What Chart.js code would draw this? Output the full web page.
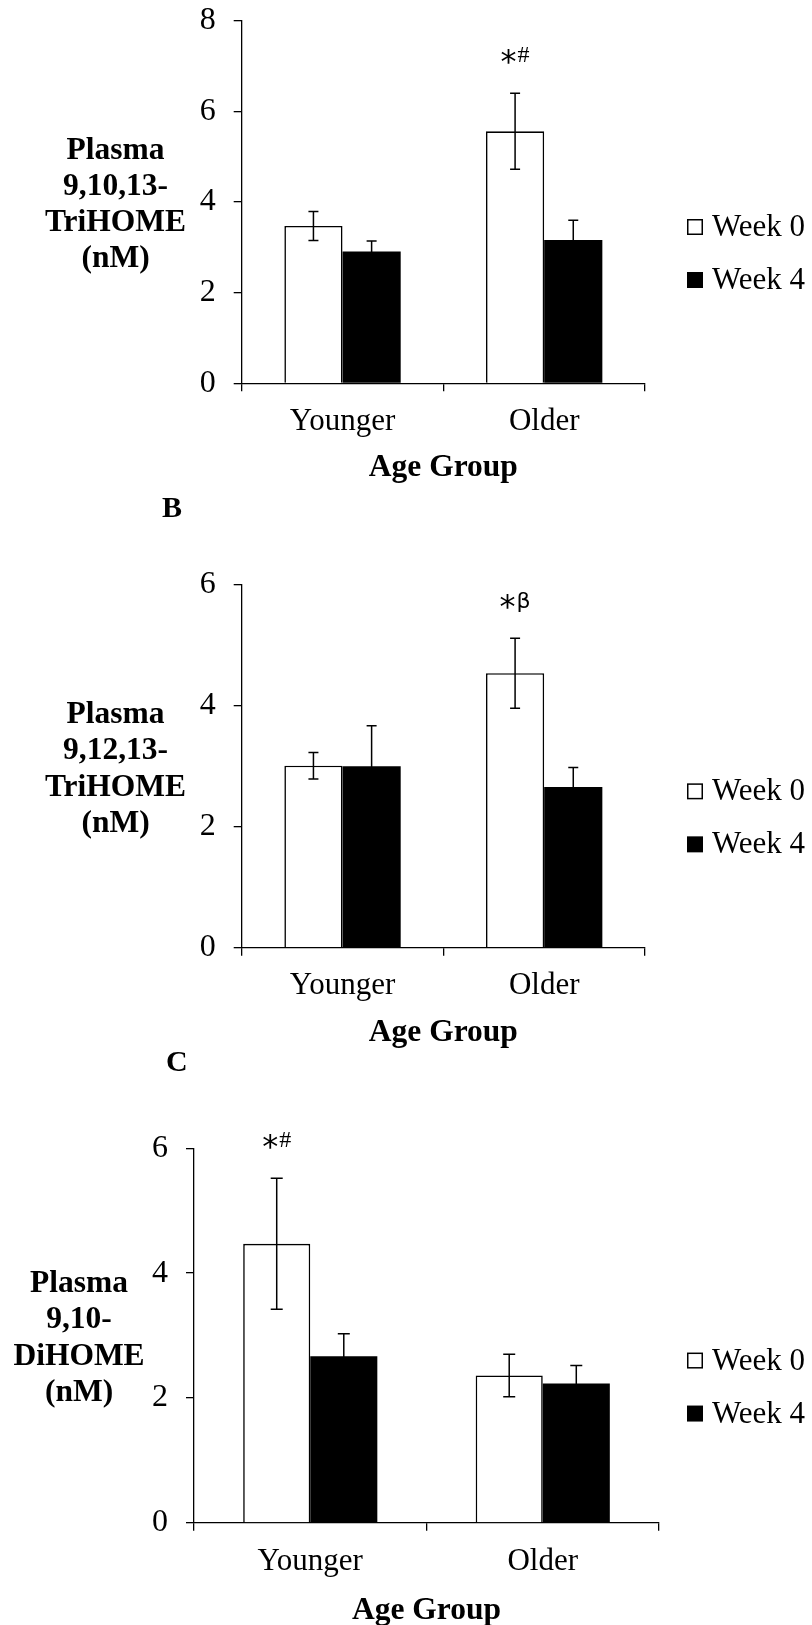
<!DOCTYPE html>
<html>
<head>
<meta charset="utf-8">
<title>Plasma TriHOME and DiHOME by age group</title>
<script src="https://cdn.jsdelivr.net/npm/chart.js@4.4.1/dist/chart.umd.min.js"></script>
<style>
  html, body { margin: 0; padding: 0; background: #fff; }
  body { width: 812px; height: 1625px; position: relative; overflow: hidden; }
  canvas { position: absolute; left: 0; }
  .panel-letter {
    position: absolute;
    font: bold 30px 'Liberation Serif', 'Times New Roman', serif;
    line-height: 30px;
    color: #000;
    z-index: 2;
  }
</style>
</head>
<body>
<canvas id="chartA" width="812" height="495" style="top:0px"></canvas>
<canvas id="chartB" width="812" height="560" style="top:495px"></canvas>
<canvas id="chartC" width="812" height="570" style="top:1055px"></canvas>
<div class="panel-letter" style="left:162px; top:492px">B</div>
<div class="panel-letter" style="left:166px; top:1046px">C</div>

<script>
// ---- data ----
const categories = ['Younger', 'Older'];
const seriesLabels = ['Week 0', 'Week 4'];

// A: plasma 9,10,13-TriHOME (nM), mean and SE
const triHomeA_week0 = [3.47, 5.56];
const triHomeA_week0Se = [0.32, 0.84];
const triHomeA_week4 = [2.91, 3.16];
const triHomeA_week4Se = [0.23, 0.44];
const triHomeA_marks = ['', '*#'];
const triHomeA_ticks = [0, 2, 4, 6, 8];
const triHomeA_title = ['Plasma', '9,10,13-', 'TriHOME', '(nM)'];

// B: plasma 9,12,13-TriHOME (nM), mean and SE
const triHomeB_week0 = [3.01, 4.54];
const triHomeB_week0Se = [0.22, 0.58];
const triHomeB_week4 = [3.00, 2.66];
const triHomeB_week4Se = [0.67, 0.32];
const triHomeB_marks = ['', '*\u03B2'];
const triHomeB_ticks = [0, 2, 4, 6];
const triHomeB_title = ['Plasma', '9,12,13-', 'TriHOME', '(nM)'];

// C: plasma 9,10-DiHOME (nM), mean and SE
const diHome_week0 = [4.47, 2.36];
const diHome_week0Se = [1.05, 0.34];
const diHome_week4 = [2.67, 2.23];
const diHome_week4Se = [0.36, 0.29];
const diHome_marks = ['*#', ''];
const diHome_ticks = [0, 2, 4, 6];
const diHome_title = ['Plasma', '9,10-', 'DiHOME', '(nM)'];

const xAxisTitle = 'Age Group';

// ---- drawing helpers ----
const SERIF = "'Liberation Serif', 'Times New Roman', serif";
const SANS = "'DejaVu Sans', 'Liberation Sans', sans-serif";

// mean +/- SE whiskers on every bar
const errorBars = {
  id: 'errorBars',
  afterDatasetsDraw(chart) {
    const { ctx } = chart;
    const y = chart.scales.y;
    const cap = chart.options.plugins.errorBars.cap;
    ctx.save();
    ctx.strokeStyle = '#000';
    ctx.lineWidth = 1.5;
    chart.data.datasets.forEach((ds, di) => {
      chart.getDatasetMeta(di).data.forEach((bar, i) => {
        const v = ds.data[i], e = ds.se[i];
        const yTop = y.getPixelForValue(v + e);
        const yBot = y.getPixelForValue(v - e);
        ctx.beginPath();
        ctx.moveTo(bar.x, yTop); ctx.lineTo(bar.x, yBot);
        ctx.moveTo(bar.x - cap, yTop); ctx.lineTo(bar.x + cap, yTop);
        ctx.moveTo(bar.x - cap, yBot); ctx.lineTo(bar.x + cap, yBot);
        ctx.stroke();
      });
    });
    ctx.restore();
  }
};

// significance symbols above the Week 0 whiskers
const sigMarks = {
  id: 'sigMarks',
  afterDatasetsDraw(chart) {
    const { ctx } = chart;
    const y = chart.scales.y;
    const ds = chart.data.datasets[0];
    const meta = chart.getDatasetMeta(0);
    ctx.save();
    ctx.fillStyle = '#000';
    ds.marks.forEach((m, i) => {
      if (!m) return;
      const bar = meta.data[i];
      const cy = y.getPixelForValue(ds.data[i] + ds.se[i]) - 37;
      const star = m[0], rest = m.slice(1);
      const starFont = '32px ' + SANS;
      const restFont = rest === '#' ? '24px ' + SERIF : '22px ' + SANS;
      ctx.font = starFont;
      const ms = ctx.measureText(star);
      ctx.font = restFont;
      const mr = ctx.measureText(rest);
      const gap = 1;
      const total = ms.width + gap + mr.width;
      const x0 = bar.x - total / 2;
      // asterisk: glyph box centred on cy
      ctx.font = starFont;
      ctx.textBaseline = 'alphabetic';
      const sH = ms.actualBoundingBoxAscent + ms.actualBoundingBoxDescent;
      const sBase = cy + sH / 2 - ms.actualBoundingBoxDescent;
      ctx.fillText(star, x0, sBase);
      const starTop = sBase - ms.actualBoundingBoxAscent;
      // second symbol: top aligned slightly above the asterisk
      ctx.font = restFont;
      const rBase = starTop - 1.5 + mr.actualBoundingBoxAscent;
      ctx.fillText(rest, x0 + ms.width + gap, rBase);
    });
    ctx.restore();
  }
};

// horizontal, multi-line y-axis title centred on the plot height
const yTitle = {
  id: 'yTitle',
  afterDraw(chart) {
    const opts = chart.options.plugins.yTitle;
    const { ctx, chartArea } = chart;
    const cy = (chartArea.top + chartArea.bottom) / 2;
    const n = opts.lines.length, lh = 36.3;
    ctx.save();
    ctx.fillStyle = '#000';
    ctx.font = 'bold 31.5px ' + SERIF;
    ctx.textAlign = 'center';
    ctx.textBaseline = 'alphabetic';
    opts.lines.forEach((t, i) => {
      ctx.fillText(t, opts.centerX, cy + 11 + (i - (n - 1) / 2) * lh);
    });
    ctx.restore();
  }
};

// legend to the right of the plot, just below its middle
const sideLegend = {
  id: 'sideLegend',
  afterDraw(chart) {
    const { ctx, chartArea } = chart;
    const cy = (chartArea.top + chartArea.bottom) / 2;
    const boxX = 687, box = 16;
    ctx.save();
    ctx.font = '31px ' + SERIF;
    ctx.textBaseline = 'middle';
    ctx.textAlign = 'left';
    chart.data.datasets.forEach((ds, i) => {
      const yc = cy + 25 + i * 53;
      if (ds.backgroundColor === '#000') {
        ctx.fillStyle = '#000';
        ctx.fillRect(boxX, yc - box / 2, box, box);
      } else {
        ctx.fillStyle = '#fff';
        ctx.fillRect(boxX, yc - box / 2, box, box);
        ctx.strokeStyle = '#000';
        ctx.lineWidth = 1.5;
        ctx.strokeRect(boxX + 0.75, yc - box / 2 + 0.75, box - 1.5, box - 1.5);
      }
      ctx.fillStyle = '#000';
      ctx.fillText(ds.label, 712, yc + 1);
    });
    ctx.restore();
  }
};

function makePanel(id, cfg) {
  const canvas = document.getElementById(id);
  const H = canvas.height;
  const titleSize = 31.5, titleLh = titleSize * 1.2;
  return new Chart(canvas, {
    type: 'bar',
    data: {
      labels: categories,
      datasets: [
        { label: seriesLabels[0], data: cfg.week0, se: cfg.se0, marks: cfg.marks,
          backgroundColor: '#fff', borderColor: '#000', borderWidth: 1.6, borderSkipped: 'start' },
        { label: seriesLabels[1], data: cfg.week4, se: cfg.se4, marks: [],
          backgroundColor: '#000', borderColor: '#000', borderWidth: 0 }
      ]
    },
    options: {
      responsive: false,
      animation: false,
      devicePixelRatio: 1,
      events: [],
      datasets: { bar: { categoryPercentage: 0.577, barPercentage: 1.0 } },
      layout: { padding: { left: 0, right: 812 - cfg.right, top: cfg.top, bottom: 0 } },
      plugins: {
        legend: { display: false },
        tooltip: { enabled: false },
        errorBars: { cap: cfg.cap },
        yTitle: { lines: cfg.title, centerX: cfg.titleX }
      },
      scales: {
        x: {
          grid: { display: true, drawOnChartArea: false, drawTicks: true, tickLength: 8,
                  color: '#000', lineWidth: 1.3, offset: true },
          border: { display: true, color: '#000', width: 1.3 },
          ticks: { font: { family: SERIF, size: 31 }, color: '#000', padding: 12, maxRotation: 0 },
          title: { display: true, text: xAxisTitle, color: '#000',
                   font: { family: SERIF, size: titleSize, weight: 'bold' },
                   padding: { top: 0, bottom: H - (cfg.xTitleBase - 10.6) - titleLh / 2 } },
          afterFit: s => { s.height = H - cfg.bottom; }
        },
        y: {
          min: 0,
          max: cfg.ticks[cfg.ticks.length - 1],
          afterBuildTicks: s => { s.ticks = cfg.ticks.map(v => ({ value: v })); },
          grid: { drawOnChartArea: false, drawTicks: true, tickLength: 8, color: '#000', lineWidth: 1.3 },
          border: { display: true, color: '#000', width: 1.3 },
          ticks: { font: { family: SERIF, size: 32 }, color: '#000', padding: 18 },
          afterFit: s => { s.width = cfg.left; s.paddingTop = 0; s.paddingBottom = 0; }
        }
      }
    },
    plugins: [errorBars, sigMarks, yTitle, sideLegend]
  });
}

makePanel('chartA', {
  week0: triHomeA_week0, se0: triHomeA_week0Se, week4: triHomeA_week4, se4: triHomeA_week4Se,
  marks: triHomeA_marks, ticks: triHomeA_ticks, title: triHomeA_title,
  left: 241.7, right: 645, top: 20.7, bottom: 383.3, xTitleBase: 478, titleX: 115.5, cap: 5
});
makePanel('chartB', {
  week0: triHomeB_week0, se0: triHomeB_week0Se, week4: triHomeB_week4, se4: triHomeB_week4Se,
  marks: triHomeB_marks, ticks: triHomeB_ticks, title: triHomeB_title,
  left: 241.7, right: 645, top: 90, bottom: 452.7, xTitleBase: 548.5, titleX: 115.5, cap: 5
});
makePanel('chartC', {
  week0: diHome_week0, se0: diHome_week0Se, week4: diHome_week4, se4: diHome_week4Se,
  marks: diHome_marks, ticks: diHome_ticks, title: diHome_title,
  left: 194, right: 659, top: 93.3, bottom: 467.8, xTitleBase: 566, titleX: 79, cap: 6
});
</script>
</body>
</html>
